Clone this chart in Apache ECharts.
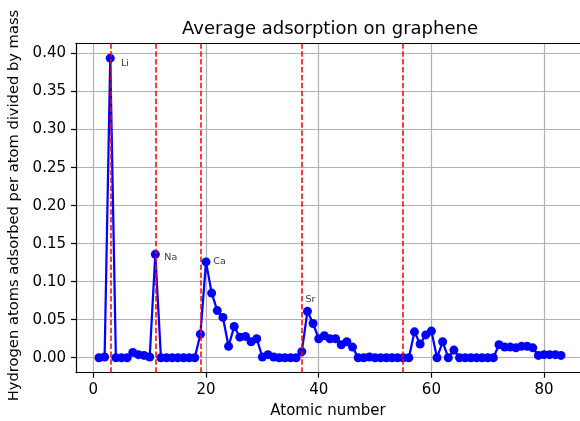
<!DOCTYPE html>
<html>
<head>
<meta charset="utf-8">
<script src="https://cdn.jsdelivr.net/npm/echarts@6/dist/echarts.min.js"></script>
<style>
html,body{margin:0;padding:0;background:#fff;}
#chart{width:580px;height:421px;}
</style>
</head>
<body>
<div id="chart"></div>
<script>
// ---- data ----
const atomicNumbers = [1,2,3,4,5,6,7,8,9,10,11,12,13,14,15,16,17,18,19,20,21,22,23,24,25,26,27,28,29,30,31,32,33,34,35,36,37,38,39,40,41,42,43,44,45,46,47,48,49,50,51,52,53,54,55,56,57,58,59,60,61,62,63,64,65,66,67,68,69,70,71,72,73,74,75,76,77,78,79,80,81,82,83];
const adsorption = [
  0.000, 0.001, 0.394, 0.000, 0.000, 0.000, 0.007, 0.004, 0.003, 0.001,
  0.136, 0.000, 0.000, 0.000, 0.000, 0.000, 0.000, 0.000, 0.031, 0.126,
  0.085, 0.062, 0.053, 0.015, 0.041, 0.027, 0.028, 0.021, 0.025, 0.001,
  0.004, 0.001, 0.000, 0.000, 0.000, 0.000, 0.008, 0.061, 0.045, 0.025,
  0.029, 0.025, 0.025, 0.017, 0.021, 0.014, 0.000, 0.000, 0.001, 0.000,
  0.000, 0.000, 0.000, 0.000, 0.000, 0.000, 0.034, 0.018, 0.030, 0.035,
  0.000, 0.021, 0.000, 0.010, 0.000, 0.000, 0.000, 0.000, 0.000, 0.000,
  0.000, 0.017, 0.014, 0.014, 0.013, 0.015, 0.015, 0.013, 0.003, 0.004,
  0.004, 0.004, 0.003
];
const alkaliLines = [3, 11, 19, 37, 55];
const annotationNames = ['Li', 'Na', 'Ca', 'Sr'];
const annotationZ = [3, 11, 20, 38];
const xTicks = [0, 20, 40, 60, 80];
const yTicks = [0.00, 0.05, 0.10, 0.15, 0.20, 0.25, 0.30, 0.35, 0.40];
const titleText = 'Average adsorption on graphene';
const xLabel = 'Atomic number';
const yLabel = 'Hydrogen atoms adsorbed per atom divided by mass';

// ---- styling ----
const FONT = 'DejaVu Sans';
const X_MIN = -3.08, X_MAX = 86.38;
const labelOffsets = {Li: [10.2, 5.5], Na: [8.5, 3.3], Ca: [6.8, 0], Sr: [-2.5, -11.5]};

const lineData = atomicNumbers.map((z, i) => [z, adsorption[i]]);
const annData = annotationNames.map((n, i) => {
  const z = annotationZ[i];
  const v = adsorption[atomicNumbers.indexOf(z)];
  return {
    value: [z, v],
    name: n,
    label: {offset: labelOffsets[n]}
  };
});

const chart = echarts.init(document.getElementById('chart'), null, {renderer: 'canvas'});
chart.setOption({
  animation: false,
  backgroundColor: '#ffffff',
  title: {
    text: titleText,
    left: 330,
    top: 20,
    textAlign: 'center',
    padding: 0,
    textStyle: {fontFamily: FONT, fontSize: 18, fontWeight: 'normal', color: '#000'}
  },
  grid: {
    left: 76, top: 43.3, right: 0, bottom: 48.3,
    show: false,
    containLabel: false,
    outerBoundsMode: 'none'
  },
  xAxis: [{
    type: 'value',
    min: X_MIN, max: X_MAX,
    name: xLabel,
    nameLocation: 'middle',
    nameGap: 31,
    nameTextStyle: {fontFamily: FONT, fontSize: 15, color: '#000'},
    axisLine: {show: true, onZero: false, lineStyle: {color: '#000', width: 1.2}},
    axisTick: {show: true, inside: false, length: 5, customValues: xTicks, lineStyle: {color: '#000', width: 1.2}},
    axisLabel: {show: true, margin: 10, customValues: xTicks, fontFamily: FONT, fontSize: 15, color: '#000',
      formatter: v => String(v)},
    splitLine: {show: true, lineStyle: {color: '#b0b0b0', width: 1.2}}
  }, {
    type: 'value',
    position: 'top',
    min: X_MIN, max: X_MAX,
    axisLine: {show: true, onZero: false, lineStyle: {color: '#000', width: 1.2}},
    axisTick: {show: false},
    axisLabel: {show: false},
    splitLine: {show: false}
  }],
  yAxis: {
    type: 'value',
    min: -0.0197, max: 0.4135,
    name: yLabel,
    nameLocation: 'middle',
    nameRotate: 90,
    nameGap: 48,
    nameTextStyle: {fontFamily: FONT, fontSize: 14.7, color: '#000', padding: [0, 0, 0, 5]},
    axisLine: {show: true, onZero: false, lineStyle: {color: '#000', width: 1.2}},
    axisTick: {show: true, inside: false, length: 5, customValues: yTicks, lineStyle: {color: '#000', width: 1.2}},
    axisLabel: {show: true, margin: 10, customValues: yTicks, fontFamily: FONT, fontSize: 15, color: '#000',
      formatter: v => Number(v).toFixed(2)},
    splitLine: {show: true, lineStyle: {color: '#b0b0b0', width: 1.2}}
  },
  series: [
    {
      type: 'line',
      data: lineData,
      z: 3,
      symbol: 'circle',
      symbolSize: 9,
      showAllSymbol: true,
      lineStyle: {color: '#0000ff', width: 2.25},
      itemStyle: {color: '#0000ff', borderWidth: 0},
      emphasis: {disabled: true},
      silent: true
    },
    {
      type: 'line',
      data: [],
      z: 5,
      silent: true,
      markLine: {
        silent: true,
        symbol: ['none', 'none'],
        label: {show: false},
        lineStyle: {color: '#ff0000', type: [5.5, 2.4], width: 1.5},
        emphasis: {disabled: true},
        data: alkaliLines.map(z => ({xAxis: z}))
      }
    },
    {
      type: 'scatter',
      data: annData,
      z: 6,
      symbolSize: 1,
      silent: true,
      itemStyle: {color: 'rgba(255,255,255,0)'},
      label: {
        show: true,
        position: 'right',
        distance: 0,
        align: 'left',
        verticalAlign: 'middle',
        formatter: p => p.name,
        fontFamily: FONT,
        fontSize: 9.5,
        color: '#000',
        textBorderWidth: 0
      }
    }
  ]
});
</script>
</body>
</html>
